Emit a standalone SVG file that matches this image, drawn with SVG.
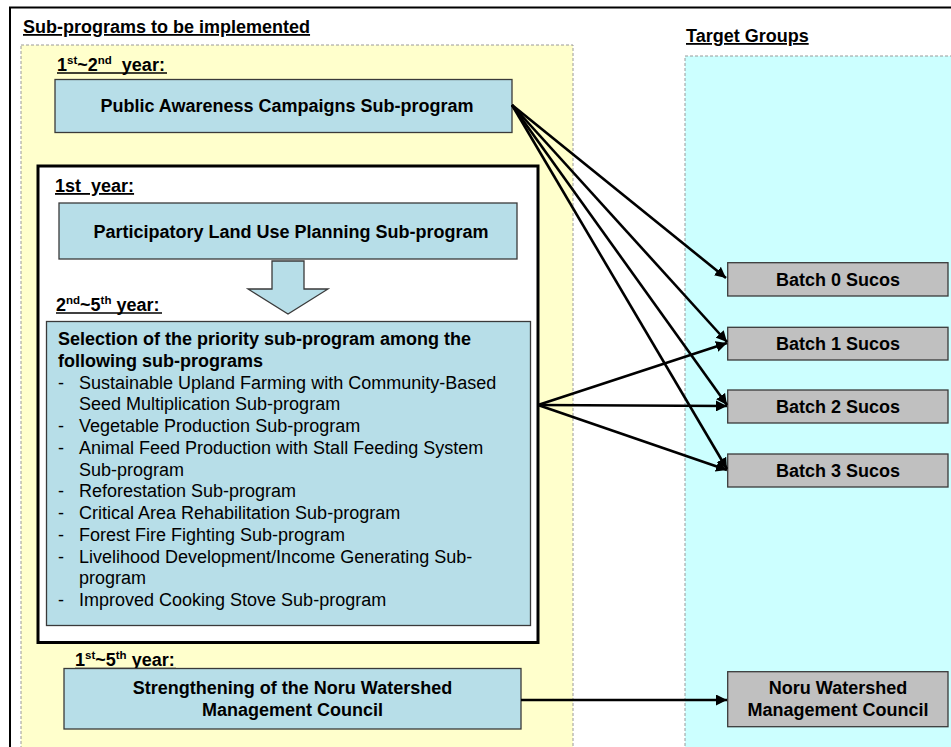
<svg xmlns="http://www.w3.org/2000/svg" width="951" height="747" viewBox="0 0 951 747">
<defs>
<marker id="ah" markerUnits="userSpaceOnUse" markerWidth="12" markerHeight="11" refX="11" refY="5.5" orient="auto"><path d="M0,0 L11,5.5 L0,11 z" fill="#000"/></marker>
</defs>
<style>
text{font-family:"Liberation Sans",Arial,Helvetica,sans-serif;fill:#000}
.b{font-weight:bold;font-size:18px}
.r{font-size:18px}
.c{text-anchor:middle}
.sup{font-size:11.5px}
.pre{white-space:pre}
.ul{stroke:#000;stroke-width:1.5}
.blue{fill:#B7DEE8;stroke:#3a3a3a;stroke-width:1.3}
.gray{fill:#C0C0C0;stroke:#3a3a3a;stroke-width:1.3}
.panel{stroke:#9a9a9a;stroke-width:1;stroke-dasharray:3 2}
.conn{stroke:#000;stroke-width:2.6;fill:none;marker-end:url(#ah)}
</style>
<rect x="0" y="0" width="951" height="747" fill="#fff"/>
<g id="frame">
<rect x="10" y="7.5" width="960" height="760" fill="none" stroke="#000" stroke-width="2"/>
</g>
<g id="panel-subprograms">
<rect x="21" y="45" width="552" height="720" fill="#FFFFCC" class="panel"/>
<text x="23" y="33" class="b" text-decoration="underline">Sub-programs to be implemented</text>
</g>
<g id="panel-targets">
<rect x="685" y="56" width="300" height="720" fill="#CCFFFF" class="panel"/>
<text x="686" y="42" class="b" text-decoration="underline">Target Groups</text>
</g>
<g id="public-awareness">
<text x="57" y="71" class="b pre">1<tspan class="sup" dy="-7">st</tspan><tspan dy="7">~2</tspan><tspan class="sup" dy="-7">nd</tspan><tspan dy="7">  year:</tspan></text>
<line x1="57" y1="73" x2="167" y2="73" class="ul"/>
<rect x="55" y="79.5" width="457" height="53" class="blue"/>
<text x="287" y="112" class="b c">Public Awareness Campaigns Sub-program</text>
</g>
<g id="phase-box">
<rect x="38" y="166" width="500" height="476.5" fill="#fff" stroke="#000" stroke-width="3"/>
</g>
<g id="land-use-planning">
<text x="55" y="192" class="b pre" text-decoration="underline">1st  year:</text>
<rect x="59" y="203" width="458" height="56" class="blue"/>
<text x="291" y="238" class="b c">Participatory Land Use Planning Sub-program</text>
</g>
<g id="down-arrow">
<path d="M272,261 H304 V289 H328 L288,314 L248,289 H272 Z" class="blue"/>
</g>
<g id="priority-selection">
<text x="56" y="310.7" class="b">2<tspan class="sup" dy="-7">nd</tspan><tspan dy="7">~5</tspan><tspan class="sup" dy="-7">th</tspan><tspan dy="7"> year:</tspan></text>
<line x1="56" y1="313" x2="162" y2="313" class="ul"/>
<rect x="46.5" y="321.5" width="484" height="304" class="blue"/>
<text x="58" y="345" class="b">Selection of the priority sub-program among the</text>
<text x="58" y="366.75" class="b">following sub-programs</text>
<g class="r">
<text x="58" y="388.5" class="r">-</text><text x="79" y="388.5" class="r">Sustainable Upland Farming with Community-Based</text>
<text x="79" y="410.25" class="r">Seed Multiplication Sub-program</text>
<text x="58" y="432" class="r">-</text><text x="79" y="432" class="r">Vegetable Production Sub-program</text>
<text x="58" y="453.75" class="r">-</text><text x="79" y="453.75" class="r">Animal Feed Production with Stall Feeding System</text>
<text x="79" y="475.5" class="r">Sub-program</text>
<text x="58" y="497.25" class="r">-</text><text x="79" y="497.25" class="r">Reforestation Sub-program</text>
<text x="58" y="519" class="r">-</text><text x="79" y="519" class="r">Critical Area Rehabilitation Sub-program</text>
<text x="58" y="540.75" class="r">-</text><text x="79" y="540.75" class="r">Forest Fire Fighting Sub-program</text>
<text x="58" y="562.5" class="r">-</text><text x="79" y="562.5" class="r">Livelihood Development/Income Generating Sub-</text>
<text x="79" y="584.25" class="r">program</text>
<text x="58" y="606" class="r">-</text><text x="79" y="606" class="r">Improved Cooking Stove Sub-program</text>
</g>
</g>
<g id="strengthening-council">
<text x="75" y="666" class="b">1<tspan class="sup" dy="-7">st</tspan><tspan dy="7">~5</tspan><tspan class="sup" dy="-7">th</tspan><tspan dy="7"> year:</tspan></text>
<line x1="75" y1="668.5" x2="176" y2="668.5" class="ul"/>
<rect x="64" y="668.5" width="457" height="60.5" class="blue"/>
<text x="292.5" y="694.3" class="b c">Strengthening of the Noru Watershed</text>
<text x="292.5" y="716" class="b c">Management Council</text>
</g>
<g id="batch0">
<rect x="727.7" y="262.7" width="220.3" height="33.3" class="gray"/>
<text x="838" y="286" class="b c">Batch 0 Sucos</text>
</g>
<g id="batch1">
<rect x="727.7" y="327.3" width="220.3" height="32.7" class="gray"/>
<text x="838" y="350.2" class="b c">Batch 1 Sucos</text>
</g>
<g id="batch2">
<rect x="727.7" y="390" width="220.3" height="33" class="gray"/>
<text x="838" y="413" class="b c">Batch 2 Sucos</text>
</g>
<g id="batch3">
<rect x="727.7" y="454" width="220.3" height="33" class="gray"/>
<text x="838" y="477" class="b c">Batch 3 Sucos</text>
</g>
<g id="noru-council">
<rect x="727.7" y="671.7" width="220.3" height="55" class="gray"/>
<text x="838" y="694.3" class="b c">Noru Watershed</text>
<text x="838" y="716" class="b c">Management Council</text>
</g>
<g id="connectors">
<line x1="512" y1="105" x2="726" y2="278" class="conn"/>
<line x1="512" y1="105" x2="727" y2="342" class="conn"/>
<line x1="512" y1="105" x2="727" y2="405" class="conn"/>
<line x1="512" y1="105" x2="727" y2="469" class="conn"/>
<line x1="538" y1="405" x2="727" y2="343" class="conn"/>
<line x1="538" y1="405" x2="727" y2="406" class="conn"/>
<line x1="538" y1="405" x2="727" y2="470" class="conn"/>
<line x1="521" y1="700" x2="727" y2="700" class="conn"/>
</g>
</svg>
